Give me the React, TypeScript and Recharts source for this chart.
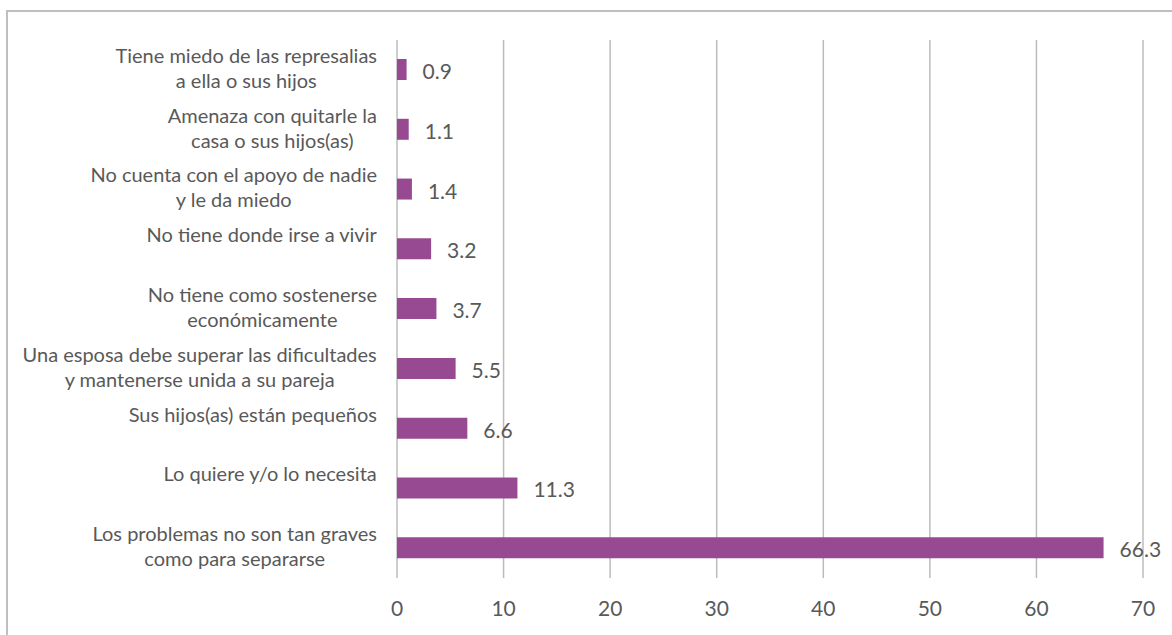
import React from 'react';
import { BarChart, Bar, XAxis, YAxis, CartesianGrid, LabelList } from 'recharts';

const categories = [
  'Tiene miedo de las represalias|a ella o sus hijos',
  'Amenaza con quitarle la|casa o sus hijos(as)',
  'No cuenta con el apoyo de nadie|y le da miedo',
  'No tiene donde irse a vivir',
  'No tiene como sostenerse|económicamente',
  'Una esposa debe superar las dificultades|y mantenerse unida a su pareja',
  'Sus hijos(as) están pequeños',
  'Lo quiere y/o lo necesita',
  'Los problemas no son tan graves|como para separarse',
];
const values = [0.9, 1.1, 1.4, 3.2, 3.7, 5.5, 6.6, 11.3, 66.3];
const xTicks = [0, 10, 20, 30, 40, 50, 60, 70];

const data = categories.map((c, i) => ({ name: c, value: values[i] }));

const TEXT = '#595959';
const GRID = '#bcbcbc';
const BAR = '#974A92';
const FONT = 'Lato, "Open Sans", sans-serif';
const LABEL_SIZE = 20;

let ctx: CanvasRenderingContext2D | null = null;
const textWidth = (s: string) => {
  if (!ctx) {
    ctx = document.createElement('canvas').getContext('2d');
  }
  if (!ctx) return s.length * LABEL_SIZE * 0.45;
  ctx.font = `${LABEL_SIZE}px ${FONT}`;
  return ctx.measureText(s).width;
};

// labels split on "|"; the block is right aligned, lines centred inside it
const CategoryTick = (props: any) => {
  const { x, y, payload } = props;
  const lines = String(payload.value).split('|');
  const right = x - 12;
  const blockW = Math.max(...lines.map(textWidth));
  const cx = right - blockW / 2;
  return (
    <g>
      {lines.map((line, i) => (
        <text
          key={i}
          x={cx}
          y={y - 15 + i * 25}
          textAnchor="middle"
          dominantBaseline="central"
          fill={TEXT}
          fontSize={LABEL_SIZE}
          fontFamily={FONT}
        >
          {line}
        </text>
      ))}
    </g>
  );
};

export default function App() {
  return (
    <div style={{ position: 'absolute', left: 0, top: 0, width: 1172, height: 635, overflow: 'hidden', background: '#fff' }}>
      <div
        style={{
          position: 'absolute',
          left: 6,
          top: 10,
          width: 1180,
          height: 640,
          borderTop: '2px solid #bfbfbf',
          borderLeft: '2px solid #bfbfbf',
        }}
      />
      <div style={{ position: 'absolute', left: 0, top: 0 }}>
        <BarChart
          width={1172}
          height={635}
          data={data}
          layout="vertical"
          margin={{ top: 40, right: 29, bottom: 27, left: 0 }}
          barCategoryGap={0}
        >
          <CartesianGrid horizontal={false} stroke={GRID} strokeWidth={1.5} />
          <XAxis
            type="number"
            domain={[0, 70]}
            ticks={xTicks}
            axisLine={false}
            tickLine={false}
            height={30}
            tick={{ fill: TEXT, fontSize: 21, fontFamily: FONT }}
            dy={15}
          />
          <YAxis
            type="category"
            dataKey="name"
            width={397}
            axisLine={false}
            tickLine={false}
            tick={<CategoryTick />}
            interval={0}
          />
          <Bar dataKey="value" fill={BAR} barSize={21} isAnimationActive={false}>
            <LabelList dataKey="value" position="right" offset={16} dy={2} fill={TEXT} fontSize={21} fontFamily={FONT} />
          </Bar>
        </BarChart>
      </div>
    </div>
  );
}
